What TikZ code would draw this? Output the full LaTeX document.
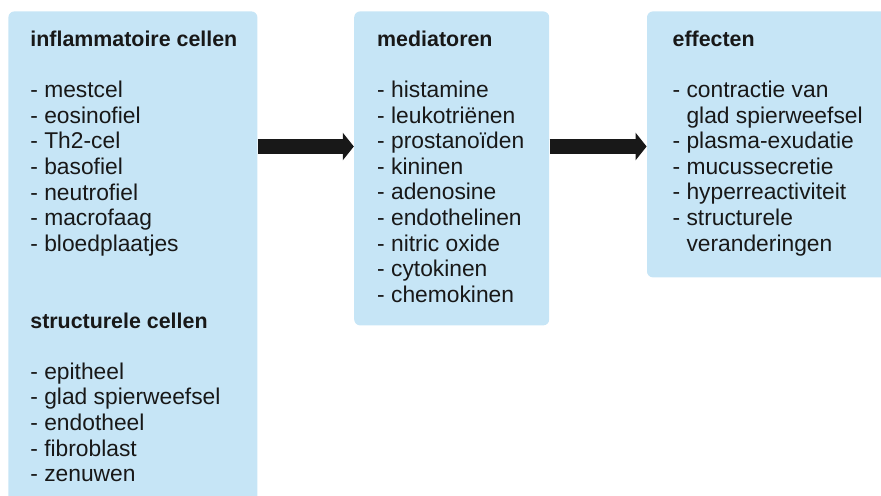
\documentclass[tikz,border=0pt]{standalone}
\usepackage{fontspec}
\setmainfont{Liberation Sans}
\usetikzlibrary{positioning, arrows.meta}
\definecolor{lichtblauw}{RGB}{198, 229, 246}
\definecolor{bijnazwart}{RGB}{24, 24, 24}
\newcommand{\kop}[1]{{\fontsize{10.7pt}{12.8pt}\selectfont\bfseries #1}}

\begin{document}
\begin{tikzpicture}[
    vak/.style={rectangle, rounded corners=3pt, fill=lichtblauw, inner sep=0pt, anchor=north west},
    lijst/.style={align=left, inner sep=0pt, anchor=north west, text=bijnazwart,
                  font=\fontsize{11.4pt}{12.8pt}\selectfont},
    pijl/.style={-{Triangle[length=5.5pt, width=13.5pt]}, line width=7.5pt, draw=bijnazwart}]
    \useasboundingbox (0,0) rectangle (440.5pt,-248pt);
    \clip (0,0) rectangle (440.5pt,-248pt);
    % drie blauwe vakken naast elkaar
    \node[vak, minimum width=124.5pt, minimum height=250pt] (cellen) at (4pt,-5.5pt) {};
    \node[vak, minimum width=97.5pt, minimum height=157pt, right=48pt of cellen.north east, anchor=north west] (mediatoren) {};
    \node[vak, minimum width=125pt, minimum height=133pt, right=48.5pt of mediatoren.north east, anchor=north west] (effecten) {};
    % teksten in de vakken (eerste regel met \strut, zodat de bovenkant vastligt)
    \node[lijst] (celtekst) at ([xshift=11pt, yshift=-8.54pt]cellen.north west) {\strut\kop{inflammatoire cellen}\\[12.8pt]
        - mestcel\\- eosinofiel\\- Th2-cel\\- basofiel\\- neutrofiel\\- macrofaag\\- bloedplaatjes\\[25.6pt]
        \kop{structurele cellen}\\[12.8pt]
        - epitheel\\- glad spierweefsel\\- endotheel\\- fibroblast\\- zenuwen};
    \node[lijst] (mediatortekst) at ([xshift=11.5pt, yshift=-8.54pt]mediatoren.north west) {\strut\kop{mediatoren}\\[12.8pt]
        - histamine\\- leukotriënen\\- prostanoïden\\- kininen\\- adenosine\\- endothelinen\\- nitric oxide\\- cytokinen\\- chemokinen};
    \node[lijst] (effecttekst) at ([xshift=12.8pt, yshift=-8.54pt]effecten.north west) {\strut\kop{effecten}\\[12.8pt]
        - contractie van\\\hphantom{-\ }glad spierweefsel\\- plasma-exudatie\\- mucussecretie\\- hyperreactiviteit\\- structurele\\\hphantom{-\ }veranderingen};
    % dikke pijlen tussen de vakken
    \draw[pijl] ([yshift=-67.75pt]cellen.north east) -- ([yshift=-67.75pt]mediatoren.north west);
    \draw[pijl] ([yshift=-67.75pt]mediatoren.north east) -- ([yshift=-67.75pt]effecten.north west);
\end{tikzpicture}
\end{document}
